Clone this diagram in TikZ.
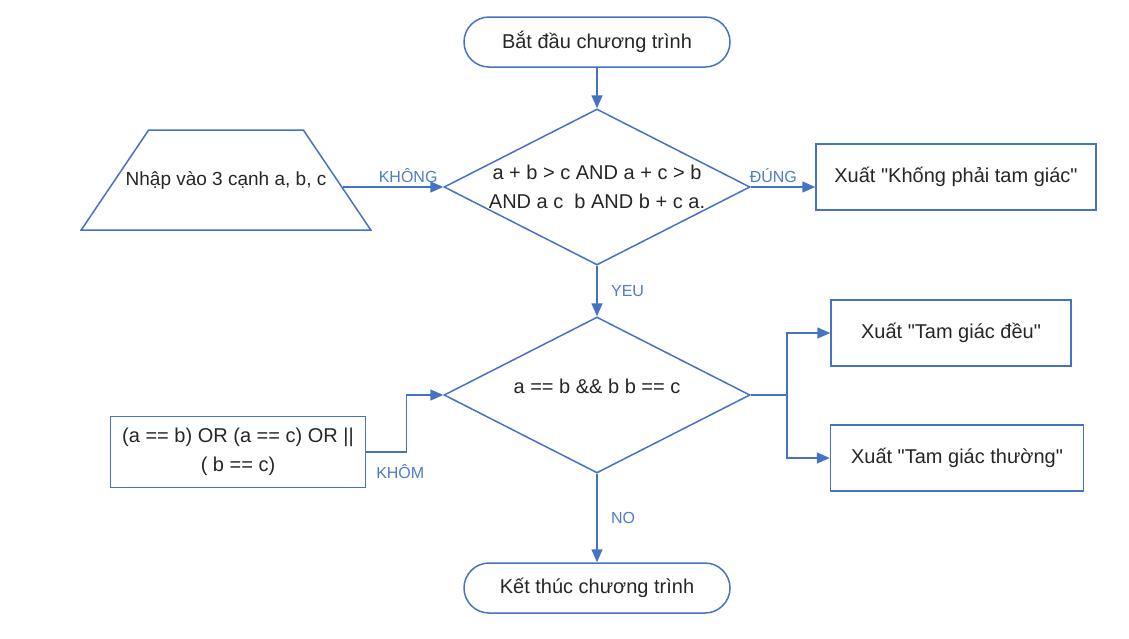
\documentclass[tikz,border=0pt]{standalone}
\usepackage{fontspec}
\setmainfont{Liberation Sans}[Ligatures=TeXOff]
\usetikzlibrary{shapes.geometric,arrows.meta}
\definecolor{lineblue}{RGB}{68,114,196}
\definecolor{labelblue}{RGB}{78,124,200}
\tikzset{
  every node/.style={font=\fontsize{20}{29}\selectfont, text=black!85},
  terminal/.style={draw=lineblue, rounded corners=25pt, minimum width=266pt, minimum height=50pt},
  hop/.style={draw=lineblue, minimum height=66pt},
  cond/.style={draw=lineblue, diamond, inner sep=0pt, minimum width=306pt, minimum height=156pt},
  nhapbox/.style={draw=lineblue, trapezium, trapezium angle=56, text height=14pt, text depth=4pt,
    inner xsep=-23pt, inner ysep=41pt, font=\fontsize{19}{29}\selectfont},
  arr/.style={draw=lineblue, -{Triangle[length=13pt,width=11pt]}},
  lbl/.style={font=\fontsize{16}{18}\selectfont, text=labelblue}
}
\begin{document}
\begin{tikzpicture}[x=1pt, y=-1pt, line width=1.5pt]
\useasboundingbox (0,0) rectangle (1129,638);
\node[terminal] (batdau) at (597,42) {Bắt đầu chương trình};
\node[cond] (dk1) at (597,187) {};
\node[align=center] (dk1txt) at (dk1) {a + b > c AND a + c > b\\AND a c\ \ b AND b + c a.};
\node[nhapbox] (nhap) at (226,180) {Nhập vào 3 cạnh a, b, c};
\node[hop, minimum width=280pt] (khongphai) at (956,177) {Xuất "Khống phải tam giác"};
\node[cond] (dk2) at (597,395) {};
\node (dk2txt) at (597,386) {a == b \&\& b b == c};
\node[hop, minimum width=255pt, minimum height=71pt, align=center] (hoac) at (238,452) {(a == b) OR (a == c) OR ||\\( b == c)};
\node[hop, minimum width=240pt] (deu) at (951,333) {Xuất "Tam giác đều"};
\node[hop, minimum width=253pt] (thuong) at (957,458) {Xuất "Tam giác thường"};
\node[terminal] (ketthuc) at (597,588) {Kết thúc chương trình};

\draw[arr] (batdau) -- (dk1);
\draw[arr] (nhap.east |- dk1.west) ++(5,0) -- node[lbl, above, pos=0.65] {KHÔNG} (dk1.west);
\draw[arr] (dk1.east) -- node[lbl, above, pos=0.35] {ĐÚNG} (dk1.east -| khongphai.west);
\draw[arr] (dk1.south) -- node[lbl, right, xshift=10pt] {YEU} (dk2.north);
\draw[arr] (hoac.east) -- ++(40,0) node[lbl, below, yshift=-8pt, xshift=-6pt] {KHÔM} |- (dk2.west);
\draw[arr] (dk2.south) -- node[lbl, right, xshift=10pt] {NO} (ketthuc.north);
\draw[draw=lineblue] (dk2.east) -- ++(36,0) coordinate (re);
\draw[arr] (re) |- (deu.west);
\draw[arr] (re) |- (thuong.west);
\end{tikzpicture}
\end{document}
